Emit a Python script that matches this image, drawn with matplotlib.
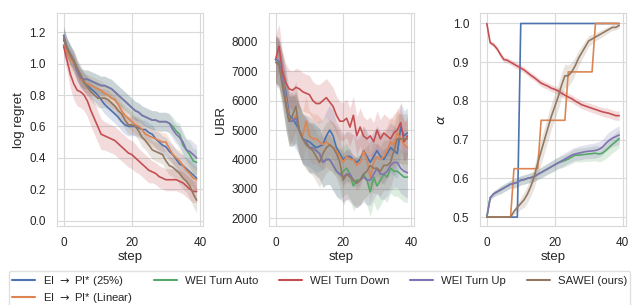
import matplotlib
matplotlib.use("Agg")
import matplotlib.pyplot as plt
import numpy as np
import seaborn as sns

steps = list(range(40))
labels = [r"EI $\rightarrow$ PI* (25%)", r"EI $\rightarrow$ PI* (Linear)", "WEI Turn Auto",
          "WEI Turn Down", "WEI Turn Up", "SAWEI (ours)"]
colors = sns.color_palette("deep")[:6]

# ---- log regret (mean, half-width of band) ----
regret_blue = [1.15, 1.10, 1.05, 1.00, 0.95, 0.91, 0.88, 0.86, 0.84, 0.82, 0.80, 0.77, 0.74, 0.72, 0.70, 0.68, 0.66, 0.63, 0.61, 0.60,
               0.60, 0.60, 0.59, 0.58, 0.58, 0.56, 0.55, 0.52, 0.50, 0.48, 0.47, 0.44, 0.42, 0.39, 0.36, 0.35, 0.33, 0.31, 0.29, 0.27]
regret_orange = [1.12, 1.07, 1.03, 1.00, 0.95, 0.90, 0.88, 0.87, 0.86, 0.85, 0.84, 0.83, 0.81, 0.80, 0.78, 0.77, 0.74, 0.70, 0.67, 0.65,
                 0.63, 0.61, 0.60, 0.58, 0.55, 0.54, 0.53, 0.52, 0.51, 0.50, 0.50, 0.46, 0.42, 0.40, 0.38, 0.35, 0.32, 0.30, 0.27, 0.26]
regret_green = [1.18, 1.10, 1.06, 1.02, 0.95, 0.91, 0.90, 0.90, 0.89, 0.88, 0.87, 0.86, 0.86, 0.85, 0.84, 0.82, 0.80, 0.78, 0.76, 0.74,
                0.72, 0.70, 0.69, 0.67, 0.66, 0.65, 0.64, 0.64, 0.63, 0.63, 0.63, 0.62, 0.60, 0.57, 0.55, 0.48, 0.45, 0.42, 0.38, 0.37]
regret_red = [1.11, 1.02, 0.93, 0.87, 0.83, 0.82, 0.80, 0.76, 0.70, 0.65, 0.60, 0.55, 0.54, 0.53, 0.52, 0.51, 0.49, 0.47, 0.45, 0.43,
              0.42, 0.40, 0.38, 0.36, 0.34, 0.32, 0.31, 0.30, 0.28, 0.27, 0.26, 0.26, 0.26, 0.26, 0.25, 0.24, 0.22, 0.20, 0.185, 0.185]
regret_purple = [1.18, 1.10, 1.06, 1.02, 0.95, 0.91, 0.90, 0.90, 0.89, 0.88, 0.87, 0.86, 0.86, 0.85, 0.84, 0.82, 0.80, 0.78, 0.76, 0.74,
                 0.72, 0.70, 0.69, 0.67, 0.66, 0.65, 0.64, 0.64, 0.63, 0.63, 0.63, 0.62, 0.58, 0.55, 0.53, 0.50, 0.45, 0.44, 0.42, 0.40]
regret_brown = [1.16, 1.10, 1.05, 1.02, 0.97, 0.93, 0.88, 0.85, 0.82, 0.80, 0.78, 0.78, 0.78, 0.77, 0.75, 0.73, 0.70, 0.68, 0.64, 0.61,
                0.61, 0.60, 0.57, 0.53, 0.51, 0.48, 0.45, 0.44, 0.43, 0.42, 0.38, 0.35, 0.34, 0.32, 0.30, 0.27, 0.25, 0.22, 0.17, 0.13]
regret_band = [0.06, 0.06, 0.06, 0.06, 0.06, 0.06, 0.06, 0.06, 0.06, 0.06, 0.06, 0.06, 0.06, 0.06, 0.06, 0.06, 0.06, 0.06, 0.06, 0.06,
               0.06, 0.06, 0.06, 0.06, 0.06, 0.06, 0.06, 0.06, 0.06, 0.06, 0.06, 0.06, 0.06, 0.06, 0.07, 0.07, 0.07, 0.08, 0.08, 0.08]
regret_band_red = [0.06, 0.07, 0.09, 0.10, 0.10, 0.10, 0.10, 0.10, 0.10, 0.10, 0.10, 0.10, 0.09, 0.09, 0.09, 0.09, 0.09, 0.09, 0.09, 0.09,
                   0.09, 0.09, 0.08, 0.08, 0.08, 0.08, 0.07, 0.07, 0.07, 0.07, 0.07, 0.07, 0.07, 0.07, 0.07, 0.07, 0.07, 0.07, 0.07, 0.07]

# ---- UBR ----
ubr_blue = [7400, 7250, 6800, 6300, 5500, 5400, 5200, 5000, 4700, 4650, 4600, 4500, 4400, 4450, 4500, 4800, 5000, 4800, 4400, 4200,
            4000, 4100, 4100, 4000, 3900, 4000, 4300, 4100, 3900, 4100, 4300, 4100, 4000, 4200, 4400, 4300, 4200, 5100, 4800, 4900]
ubr_orange = [7400, 7300, 6800, 6100, 5400, 5300, 5500, 5000, 4800, 5300, 4800, 4700, 4700, 4600, 4500, 4600, 4500, 4400, 4300, 4100,
              3900, 4100, 4000, 4000, 3800, 3900, 4300, 4000, 3400, 3900, 4100, 4000, 4100, 4300, 4600, 4500, 4900, 4700, 4500, 4400]
ubr_green = [7400, 7300, 6700, 5900, 5300, 5300, 5400, 5000, 4700, 4600, 4400, 4400, 4300, 4200, 3900, 4000, 4000, 3800, 3600, 3500,
             3600, 3700, 3500, 3100, 3300, 3300, 3500, 3300, 2900, 3400, 3100, 3300, 3500, 3400, 3700, 3600, 3600, 3500, 3400, 3400]
ubr_red = [7400, 7850, 7000, 6600, 6400, 6350, 6450, 6400, 6300, 6250, 6200, 6000, 5900, 5900, 6000, 6100, 5950, 5800, 5500, 5300,
           5300, 5400, 5100, 5500, 4800, 5100, 4800, 4700, 4800, 4600, 5000, 4700, 4900, 4800, 4700, 4900, 5000, 5250, 4600, 4800]
ubr_purple = [7400, 7350, 6700, 5900, 5300, 5300, 5400, 5000, 4700, 4600, 4400, 4400, 4300, 4200, 3900, 4000, 4000, 3800, 3600, 3500,
              3400, 3500, 3500, 3300, 3200, 3300, 3400, 3300, 3300, 3500, 3700, 3500, 3500, 3600, 3800, 3900, 3900, 3700, 3600, 3550]
ubr_brown = [7300, 7200, 6500, 5900, 5300, 5500, 5800, 5000, 4700, 4500, 4400, 4300, 4100, 3900, 4200, 4400, 4500, 4400, 4200, 3900,
             3300, 3500, 3400, 3300, 3200, 3300, 3500, 3600, 3800, 3700, 3700, 3600, 3800, 3800, 3900, 4300, 4700, 4700, 4700, 4700]
ubr_band = [800, 800, 800, 850, 850, 850, 850, 850, 850, 850, 850, 850, 850, 850, 850, 850, 850, 850, 850, 850,
            850, 850, 850, 850, 850, 850, 850, 850, 850, 850, 850, 850, 850, 850, 850, 850, 850, 850, 850, 850]
ubr_band_red = [800, 750, 700, 650, 650, 650, 650, 650, 650, 650, 650, 650, 650, 650, 650, 650, 650, 650, 650, 650,
                650, 650, 650, 650, 650, 650, 650, 650, 650, 650, 650, 650, 650, 650, 650, 650, 650, 650, 650, 650]

# ---- alpha ----
alpha_blue = [0.5, 0.5, 0.5, 0.5, 0.5, 0.5, 0.5, 0.5, 0.5, 0.5, 1.0, 1.0, 1.0, 1.0, 1.0, 1.0, 1.0, 1.0, 1.0, 1.0,
              1.0, 1.0, 1.0, 1.0, 1.0, 1.0, 1.0, 1.0, 1.0, 1.0, 1.0, 1.0, 1.0, 1.0, 1.0, 1.0, 1.0, 1.0, 1.0, 1.0]
alpha_orange = [0.5, 0.5, 0.5, 0.5, 0.5, 0.5, 0.5, 0.5, 0.625, 0.625, 0.625, 0.625, 0.625, 0.625, 0.625, 0.625, 0.75, 0.75, 0.75, 0.75,
                0.75, 0.75, 0.75, 0.75, 0.875, 0.875, 0.875, 0.875, 0.875, 0.875, 0.875, 0.875, 1.0, 1.0, 1.0, 1.0, 1.0, 1.0, 1.0, 1.0]
alpha_green = [0.5, 0.55, 0.56, 0.565, 0.57, 0.575, 0.58, 0.585, 0.587, 0.59, 0.595, 0.597, 0.6, 0.602, 0.605, 0.61, 0.615, 0.62, 0.625, 0.63,
               0.635, 0.64, 0.643, 0.646, 0.65, 0.655, 0.66, 0.66, 0.661, 0.662, 0.663, 0.664, 0.665, 0.663, 0.665, 0.672, 0.68, 0.688, 0.695, 0.703]
alpha_red = [1.0, 0.95, 0.945, 0.935, 0.92, 0.907, 0.905, 0.90, 0.895, 0.89, 0.885, 0.88, 0.873, 0.866, 0.86, 0.853, 0.846, 0.842, 0.838, 0.833,
             0.83, 0.826, 0.82, 0.815, 0.81, 0.806, 0.80, 0.795, 0.79, 0.787, 0.784, 0.781, 0.778, 0.775, 0.772, 0.77, 0.768, 0.765, 0.762, 0.762]
alpha_purple = [0.5, 0.55, 0.56, 0.565, 0.57, 0.575, 0.58, 0.585, 0.587, 0.59, 0.595, 0.597, 0.6, 0.602, 0.605, 0.61, 0.615, 0.62, 0.625, 0.63,
                0.635, 0.64, 0.645, 0.65, 0.655, 0.66, 0.663, 0.665, 0.667, 0.669, 0.67, 0.671, 0.672, 0.675, 0.68, 0.69, 0.698, 0.704, 0.708, 0.712]
alpha_brown = [0.5, 0.5, 0.5, 0.5, 0.5, 0.5, 0.5, 0.5, 0.515, 0.525, 0.535, 0.545, 0.56, 0.58, 0.605, 0.64, 0.67, 0.70, 0.73, 0.76,
               0.785, 0.81, 0.84, 0.865, 0.865, 0.875, 0.89, 0.91, 0.925, 0.94, 0.955, 0.96, 0.965, 0.97, 0.975, 0.98, 0.985, 0.99, 0.99, 0.995]
alpha_band = [0.0, 0.005, 0.008, 0.008, 0.01, 0.01, 0.01, 0.01, 0.012, 0.012, 0.012, 0.012, 0.012, 0.013, 0.013, 0.013, 0.014, 0.014, 0.014, 0.015,
              0.015, 0.015, 0.016, 0.016, 0.016, 0.017, 0.017, 0.018, 0.018, 0.018, 0.019, 0.019, 0.02, 0.02, 0.02, 0.021, 0.022, 0.022, 0.023, 0.024]
alpha_band_red = [0.0, 0.006, 0.006, 0.006, 0.007, 0.007, 0.007, 0.007, 0.008, 0.008, 0.008, 0.008, 0.008, 0.008, 0.008, 0.008, 0.009, 0.009, 0.009, 0.009,
                  0.009, 0.009, 0.01, 0.01, 0.01, 0.01, 0.01, 0.01, 0.01, 0.01, 0.011, 0.011, 0.011, 0.011, 0.011, 0.012, 0.012, 0.012, 0.012, 0.012]
alpha_band_brown = [0.0, 0.0, 0.0, 0.0, 0.0, 0.0, 0.0, 0.002, 0.008, 0.012, 0.015, 0.02, 0.022, 0.025, 0.028, 0.03, 0.032, 0.033, 0.033, 0.033,
                    0.033, 0.033, 0.032, 0.03, 0.028, 0.025, 0.022, 0.02, 0.018, 0.016, 0.014, 0.012, 0.01, 0.01, 0.01, 0.009, 0.008, 0.008, 0.007, 0.006]

regret = [regret_blue, regret_orange, regret_green, regret_red, regret_purple, regret_brown]
regret_bands = [regret_band, regret_band, regret_band, regret_band_red, regret_band, regret_band]
ubr = [ubr_blue, ubr_orange, ubr_green, ubr_red, ubr_purple, ubr_brown]
ubr_bands = [ubr_band, ubr_band, ubr_band, ubr_band_red, ubr_band, ubr_band]
alpha = [alpha_blue, alpha_orange, alpha_green, alpha_red, alpha_purple, alpha_brown]
alpha_bands = [None, None, alpha_band, alpha_band_red, alpha_band, alpha_band_brown]

sns.set_theme(style="whitegrid")
plt.rcParams["font.family"] = ["Liberation Sans", "DejaVu Sans"]
plt.rcParams["axes.edgecolor"] = "0.85"
plt.rcParams["grid.color"] = "0.85"

fig = plt.figure(figsize=(6.36, 3.05), dpi=100)
boxes = [(0.0896, 0.259, 0.230, 0.697), (0.423, 0.259, 0.228, 0.697), (0.755, 0.259, 0.229, 0.697)]
axes = [fig.add_axes(b) for b in boxes]

panels = [(regret, regret_bands, "log regret", (-0.035, 1.32), [0.0, 0.2, 0.4, 0.6, 0.8, 1.0, 1.2]),
          (ubr, ubr_bands, "UBR", (1740, 8960), [2000, 3000, 4000, 5000, 6000, 7000, 8000]),
          (alpha, alpha_bands, r"$\alpha$", (0.477, 1.026), [0.5, 0.6, 0.7, 0.8, 0.9, 1.0])]

x = np.array(steps)
for ax, (series, bands, ylabel, ylim, yticks) in zip(axes, panels):
    for i, (mean, band) in enumerate(zip(series, bands)):
        m = np.array(mean, dtype=float)
        ax.plot(x, m, color=colors[i], lw=1.2, label=labels[i])
        if band is not None:
            b = np.array(band, dtype=float)
            ax.fill_between(x, m - b, m + b, color=colors[i], alpha=0.2, lw=0)
    ax.set_xlim(-1.95, 40.95)
    ax.set_ylim(*ylim)
    ax.set_xticks([0, 20, 40])
    ax.set_yticks(yticks)
    ax.tick_params(labelsize=8.5, pad=2)
    ax.set_xlabel("step", fontsize=9.5, labelpad=1)
    ax.set_ylabel(ylabel, fontsize=9.5, labelpad=3)
    for s in ax.spines.values():
        s.set_linewidth(0.8)
    ax.grid(lw=0.8)

handles, labs = axes[0].get_legend_handles_labels()
leg = fig.legend(handles, labs, loc="upper left", bbox_to_anchor=(0.014, 0.1115), ncol=5,
                 fontsize=8.2, frameon=True, handlelength=2.0, handletextpad=0.7,
                 columnspacing=1.85, borderaxespad=0, borderpad=0.3, labelspacing=0.25)
leg.get_frame().set_edgecolor("0.85")
for line in leg.get_lines():
    line.set_linewidth(1.5)

fig.savefig("out.png", dpi=100)
